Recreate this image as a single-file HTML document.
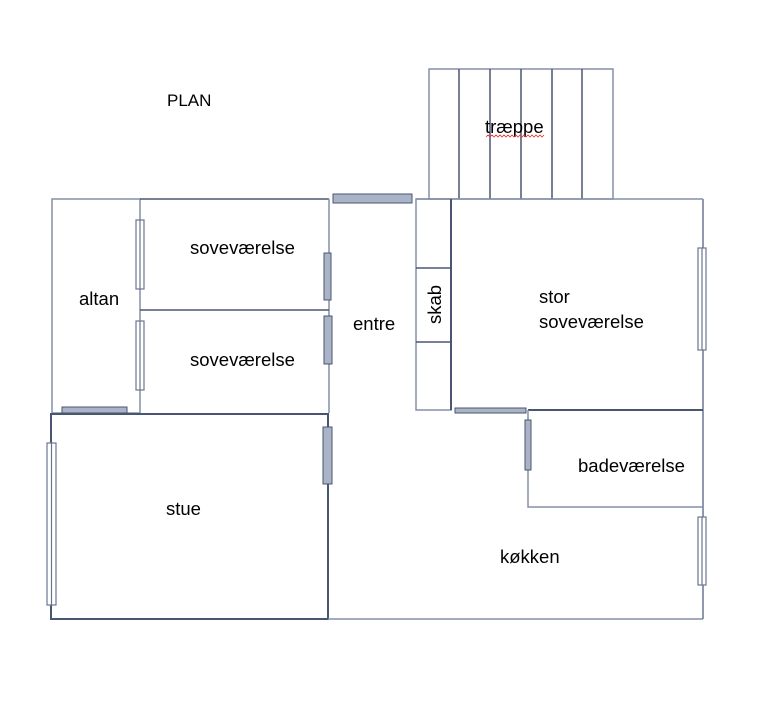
<!DOCTYPE html>
<html><head><meta charset="utf-8"><style>
html,body{margin:0;padding:0;background:#fff;}
svg{display:block;}
text{font-family:"Liberation Sans",sans-serif;font-size:18.5px;fill:#000;}
</style></head><body>
<svg width="783" height="705" viewBox="0 0 783 705" xmlns="http://www.w3.org/2000/svg">
<g fill="none" stroke="#8390a8" stroke-width="1.5">
<rect x="429" y="69" width="184" height="130"/>
<line x1="459" y1="69" x2="459" y2="199" stroke="#4a5670"/>
<line x1="490" y1="69" x2="490" y2="199" stroke="#4a5670"/>
<line x1="521" y1="69" x2="521" y2="199" stroke="#4a5670"/>
<line x1="552" y1="69" x2="552" y2="199" stroke="#4a5670"/>
<line x1="582" y1="69" x2="582" y2="199" stroke="#4a5670"/>
<rect x="52" y="199" width="88" height="214"/>
<line x1="140" y1="199" x2="329" y2="199" stroke="#4a5670"/>
<line x1="329" y1="199" x2="329" y2="413"/>
<line x1="140" y1="310" x2="329" y2="310" stroke="#4a5670"/>
<rect x="51" y="414" width="277" height="205" stroke="#4a5670" stroke-width="2"/>
<line x1="328" y1="619" x2="703" y2="619"/>
<line x1="703" y1="199" x2="703" y2="619" stroke="#6a7690"/>
<rect x="416" y="199" width="35" height="211"/>
<line x1="416" y1="268" x2="451" y2="268" stroke="#4a5670"/>
<line x1="416" y1="342" x2="451" y2="342" stroke="#4a5670"/>
<line x1="416" y1="199" x2="703" y2="199"/>
<line x1="451" y1="199" x2="451" y2="410" stroke="#4a5670" stroke-width="2"/>
<line x1="528" y1="410" x2="703" y2="410" stroke="#4a5670" stroke-width="2"/>
<polyline points="528,410 528,507 703,507"/>
</g>
<g fill="#a9b4c6" stroke="#4a5670" stroke-width="1">
<rect x="333" y="194" width="79" height="9"/>
<rect x="324" y="253" width="7" height="47"/>
<rect x="324" y="316" width="8" height="48"/>
<rect x="62" y="407" width="65" height="6"/>
<rect x="323" y="427" width="9" height="57"/>
<rect x="455" y="408" width="71" height="5"/>
<rect x="525" y="420" width="6" height="50"/>
</g>
<g fill="#fff" stroke="#6a7690" stroke-width="1.2">
<rect x="136" y="220" width="8" height="69"/>
<rect x="136" y="321" width="8" height="69"/>
<rect x="47" y="443" width="9" height="162"/>
<rect x="698" y="248" width="8" height="102"/>
<rect x="698" y="517" width="8" height="68"/>
<line x1="140" y1="220" x2="140" y2="289"/>
<line x1="140" y1="321" x2="140" y2="390"/>
<line x1="51.5" y1="443" x2="51.5" y2="605"/>
<line x1="702" y1="248" x2="702" y2="350"/>
<line x1="702" y1="517" x2="702" y2="585"/>
</g>
<text x="167" y="106" style="font-size:17px">PLAN</text>
<text x="190" y="254">soveværelse</text>
<text x="190" y="366">soveværelse</text>
<text x="79" y="305">altan</text>
<text x="353" y="330">entre</text>
<text x="0" y="0" transform="translate(441,324) rotate(-90)">skab</text>
<text x="485" y="133">træppe</text>
<path d="M486,137 l2,-2 2,2 2,-2 2,2 2,-2 2,2 2,-2 2,2 2,-2 2,2 2,-2 2,2 2,-2 2,2 2,-2 2,2 2,-2 2,2 2,-2 2,2 2,-2 2,2 2,-2 2,2 2,-2 2,2 2,-2 2,2 2,-2" fill="none" stroke="#e03030" stroke-width="0.8"/>
<text x="539" y="303">stor</text>
<text x="539" y="328">soveværelse</text>
<text x="578" y="472">badeværelse</text>
<text x="166" y="515">stue</text>
<text x="500" y="563">køkken</text>
</svg>
</body></html>
